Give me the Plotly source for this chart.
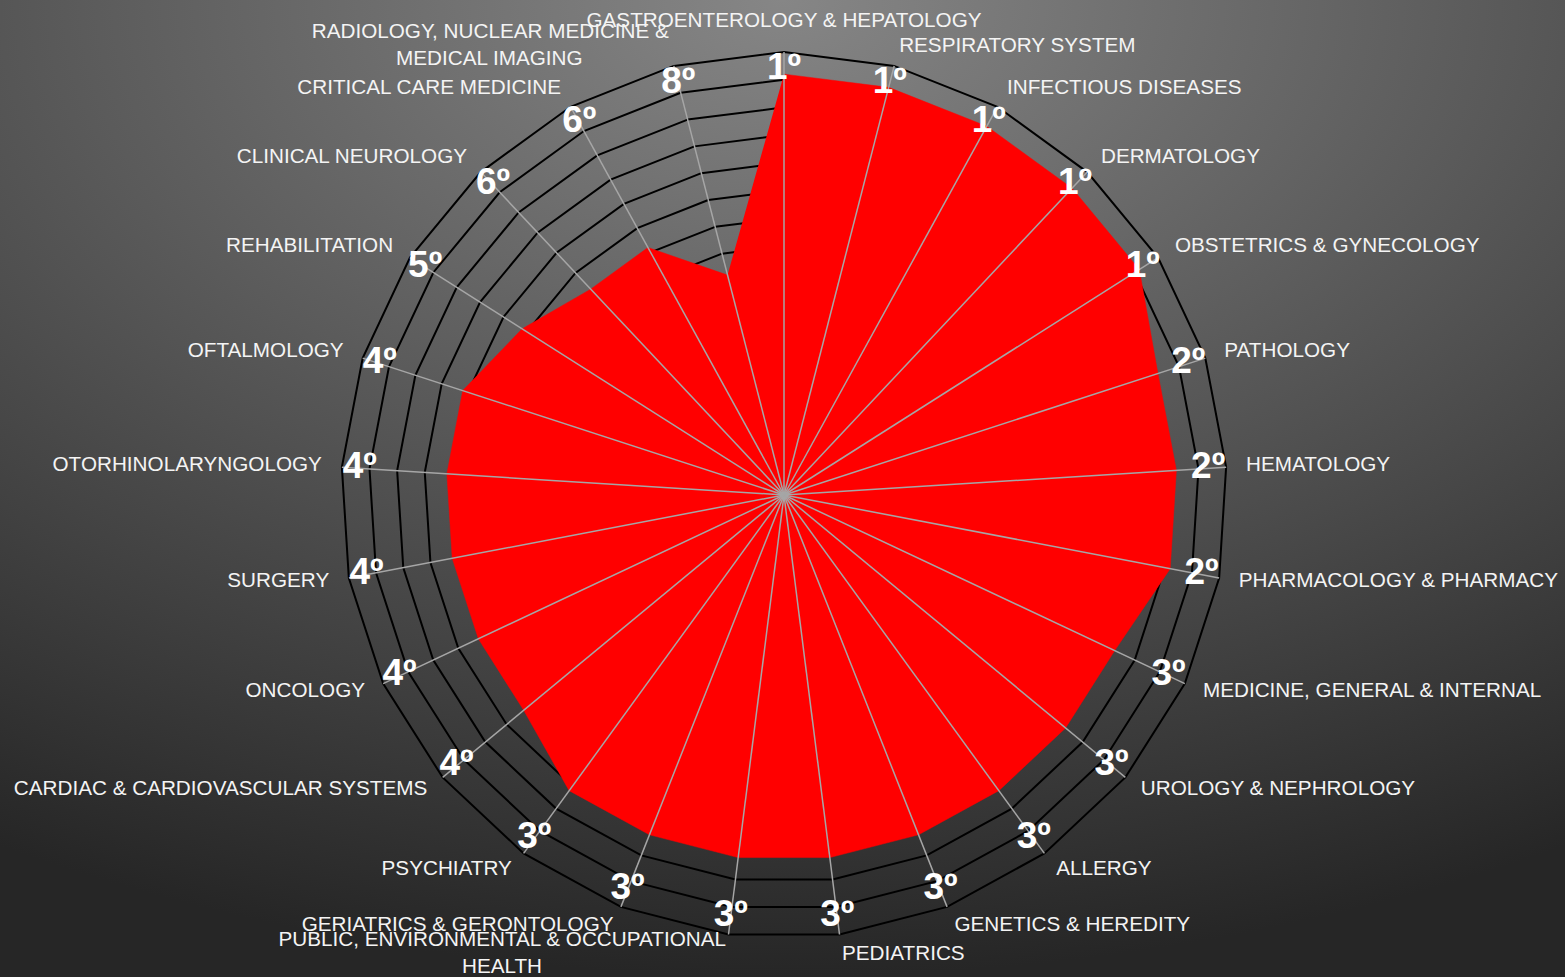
import base64
import math
import plotly.graph_objects as go

categories = [
    "GASTROENTEROLOGY & HEPATOLOGY",
    "RESPIRATORY SYSTEM",
    "INFECTIOUS DISEASES",
    "DERMATOLOGY",
    "OBSTETRICS & GYNECOLOGY",
    "PATHOLOGY",
    "HEMATOLOGY",
    "PHARMACOLOGY & PHARMACY",
    "MEDICINE, GENERAL & INTERNAL",
    "UROLOGY & NEPHROLOGY",
    "ALLERGY",
    "GENETICS & HEREDITY",
    "PEDIATRICS",
    "PUBLIC, ENVIRONMENTAL & OCCUPATIONAL<br>HEALTH",
    "GERIATRICS & GERONTOLOGY",
    "PSYCHIATRY",
    "CARDIAC & CARDIOVASCULAR SYSTEMS",
    "ONCOLOGY",
    "SURGERY",
    "OTORHINOLARYNGOLOGY",
    "OFTALMOLOGY",
    "REHABILITATION",
    "CLINICAL NEUROLOGY",
    "CRITICAL CARE MEDICINE",
    "RADIOLOGY, NUCLEAR MEDICINE &<br>MEDICAL IMAGING",
]

ranks = [1, 1, 1, 1, 1, 2, 2, 2, 3, 3, 3, 3, 3, 3, 3, 3, 4, 4, 4, 4, 4, 5, 6, 6, 8]

rank_labels = [f"{r}º" for r in ranks]

# ---- styling / geometry constants (reversed radial axis: rank 1 near the rim)
r_center = 16.2          # axis value at the centre
r_outer = 0.2            # axis value at the outer ring
ring_vals = [r_outer + k for k in range(17)]
rank_label_r = 0.85
OUTER_PX = 443           # outer ring radius in pixels
LABEL_GAP_PX = 20        # gap between outer ring and category labels
EXTRA_PX = 22            # polar area beyond the outer ring (room for labels)

FONT = "Arial, Liberation Sans, sans-serif"

# approximate Arial advance widths (em) used to centre multi-line labels
ARIAL_W = {
    "A": .667, "B": .667, "C": .722, "D": .722, "E": .667, "F": .611,
    "G": .778, "H": .722, "I": .278, "J": .5, "K": .667, "L": .556,
    "M": .833, "N": .722, "O": .778, "P": .667, "Q": .778, "R": .722,
    "S": .667, "T": .611, "U": .722, "V": .667, "W": .944, "X": .667,
    "Y": .667, "Z": .611, " ": .278, ",": .278, "&": .667,
}
NBSP = "\u00a0"
NBSP_W = .278


def centred(label, pos):
    lines = label.split("<br>")
    if len(lines) == 1:
        return label
    widths = [sum(ARIAL_W.get(ch, .6) for ch in ln) for ln in lines]
    wmax = max(widths)
    out = []
    for ln, w in zip(lines, widths):
        k = int(round((wmax - w) / 2 / NBSP_W))
        if pos.endswith("left"):
            ln = ln + NBSP * k
        elif pos.endswith("right"):
            ln = NBSP * k + ln
        out.append(ln)
    return "<br>".join(out)


n = len(categories)
cat_positions = []
for i in range(n):
    a = math.radians(i * 360.0 / n)
    s, c = math.sin(a), math.cos(a)
    if abs(s) < 0.05:
        cat_positions.append("top center" if c > 0 else "bottom center")
    elif s > 0:
        cat_positions.append("middle right")
    else:
        cat_positions.append("middle left")

cat_texts = [centred(lbl, pos) for lbl, pos in zip(categories, cat_positions)]

spoke_theta, spoke_r = [], []
for cat in categories:
    spoke_theta += [cat, cat, None]
    spoke_r += [r_center, r_outer, None]

svg = (
    '<svg xmlns="http://www.w3.org/2000/svg" width="1565" height="977" '
    'viewBox="0 0 100 100" preserveAspectRatio="none">'
    '<defs><radialGradient id="g" cx="0.5" cy="0" r="1">'
    '<stop offset="0" stop-color="#868686"/>'
    '<stop offset="1" stop-color="#262626"/>'
    '</radialGradient></defs>'
    '<rect x="0" y="0" width="100" height="100" fill="url(#g)"/></svg>'
)
bg_src = "data:image/svg+xml;base64," + base64.b64encode(svg.encode()).decode()

fig = go.Figure()

# red filled area
fig.add_trace(go.Scatterpolar(
    r=ranks,
    theta=categories,
    mode="lines",
    fill="toself",
    fillcolor="#ff0000",
    line=dict(color="#ff0000", width=0.5),
    hoverinfo="skip",
    showlegend=False,
))

# spokes drawn above the fill
fig.add_trace(go.Scatterpolar(
    r=spoke_r,
    theta=spoke_theta,
    mode="lines",
    connectgaps=False,
    line=dict(color="#a6a6a6", width=1.5),
    hoverinfo="skip",
    showlegend=False,
))

# rank labels
fig.add_trace(go.Scatterpolar(
    r=[rank_label_r] * n,
    theta=categories,
    mode="text",
    text=rank_labels,
    textposition="middle center",
    textfont=dict(family=FONT, size=37, color="white", weight="bold"),
    cliponaxis=False,
    hoverinfo="skip",
    showlegend=False,
))

# category labels on an overlaid helper polar (plain 0..R pixel scale)
R2 = OUTER_PX + EXTRA_PX
fig.add_trace(go.Scatterpolar(
    r=[OUTER_PX + LABEL_GAP_PX] * n,
    theta=categories,
    mode="text",
    text=cat_texts,
    textposition=cat_positions,
    textfont=dict(family=FONT, size=20.7, color="#f4f4f4"),
    cliponaxis=False,
    hoverinfo="skip",
    showlegend=False,
    subplot="polar2",
))

cx, cy, W, H = 784, 495, 1565, 977
dom = dict(
    x=[(cx - R2) / W, (cx + R2) / W],
    y=[(H - cy - R2) / H, (H - cy + R2) / H],
)
r_edge = r_outer - (r_center - r_outer) * EXTRA_PX / OUTER_PX

hidden_ang = dict(
    direction="clockwise", rotation=90,
    showline=False, showgrid=False, showticklabels=False, ticks="",
)

fig.update_layout(
    width=W,
    height=H,
    margin=dict(l=0, r=0, t=0, b=0),
    paper_bgcolor="rgba(0,0,0,0)",
    plot_bgcolor="rgba(0,0,0,0)",
    images=[dict(
        source=bg_src, xref="paper", yref="paper",
        x=0, y=1, sizex=1, sizey=1,
        xanchor="left", yanchor="top",
        sizing="stretch", layer="below",
    )],
    polar=dict(
        domain=dom,
        bgcolor="rgba(0,0,0,0)",
        gridshape="linear",
        radialaxis=dict(
            range=[r_center, r_edge],
            tickvals=ring_vals,
            showticklabels=False,
            ticks="",
            showline=False,
            gridcolor="#000000",
            gridwidth=1.5,
        ),
        angularaxis=hidden_ang,
    ),
    polar2=dict(
        domain=dom,
        bgcolor="rgba(0,0,0,0)",
        radialaxis=dict(
            range=[0, R2],
            showticklabels=False, ticks="", showline=False, showgrid=False,
        ),
        angularaxis=hidden_ang,
    ),
)

fig.write_html(
    "out.html",
    config={"displayModeBar": False},
    post_script="document.body.style.margin='0';document.body.style.overflow='hidden';",
)
